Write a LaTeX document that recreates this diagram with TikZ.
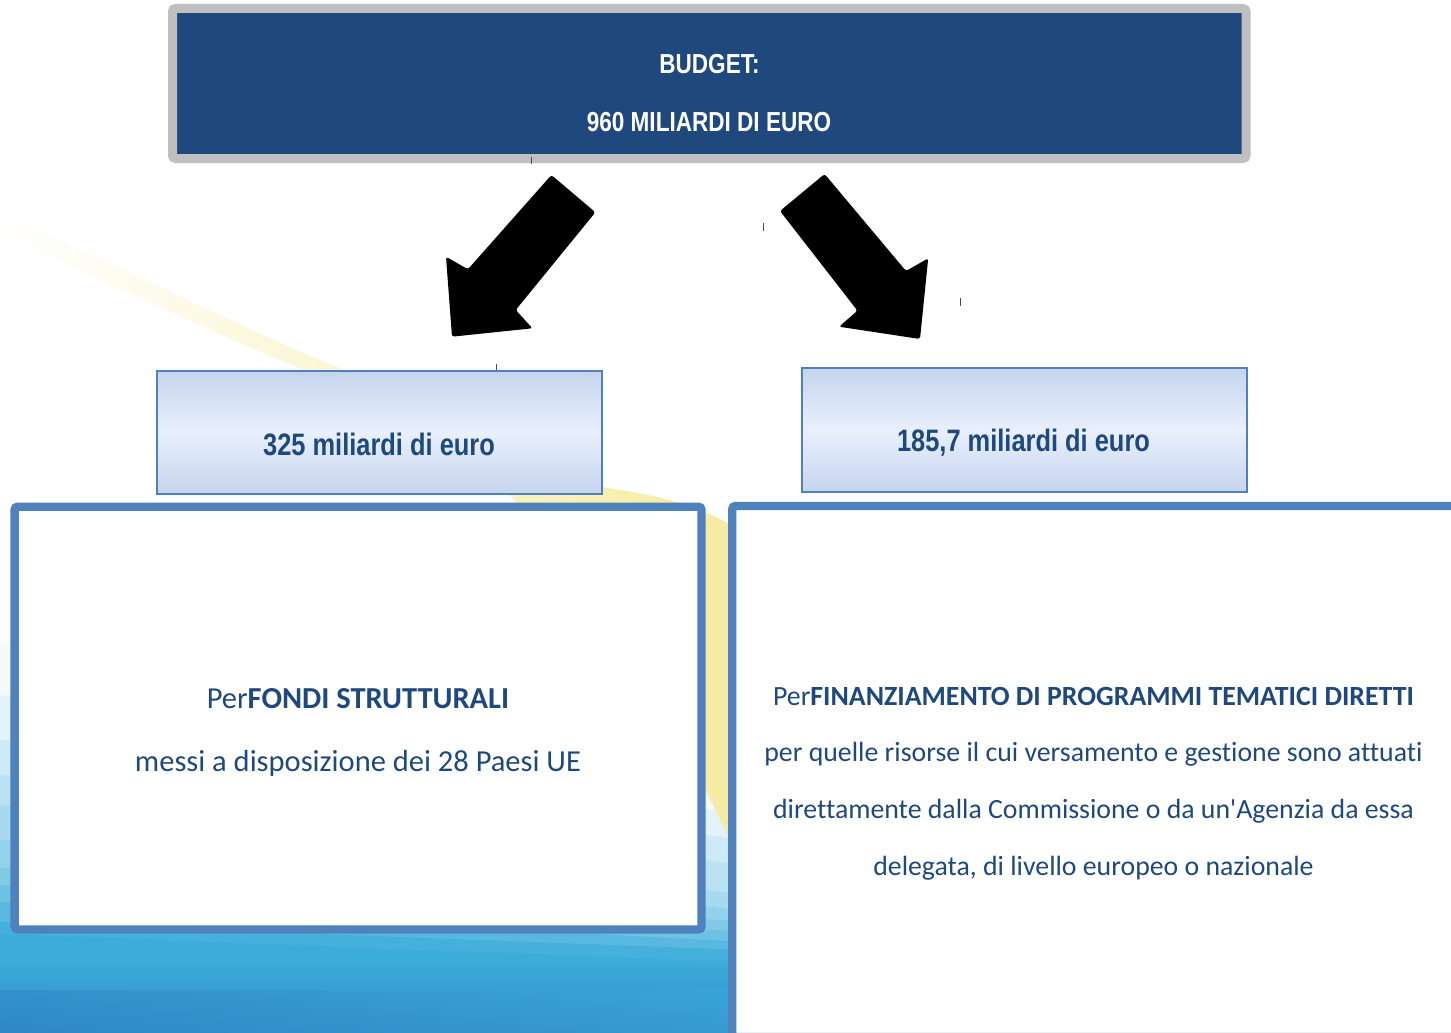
\documentclass[tikz,border=0pt]{standalone}
\usepackage{fontspec}
\setmainfont{Carlito}[Ligatures={TeX,NoCommon}]
\newfontfamily\narrowfont{Liberation Sans}
\definecolor{navy}{HTML}{1F497D}
\definecolor{accent}{HTML}{4F81BD}
\definecolor{graybd}{HTML}{BFBFBF}
\definecolor{gradend}{HTML}{C5D4EE}
\definecolor{gradmid}{HTML}{E9F0FB}
\definecolor{swoosh}{HTML}{F6EBA0}
\definecolor{bgblue}{HTML}{3CACDA}
\definecolor{bgdark}{HTML}{2F86C4}
\newcommand\narrowtxt[1]{\scalebox{0.82}[1]{#1}}
\begin{document}
\begin{tikzpicture}[x=1pt,y=-1pt,
  bigbox/.style={draw=accent, line width=8.3pt, fill=white, rounded corners=3pt, inner sep=0pt, anchor=north west},
  midbox/.style={draw=accent, line width=2pt, top color=gradend, bottom color=gradend, middle color=gradmid, inner sep=0pt, anchor=north west, minimum width=445pt},
  amounttxt/.style={anchor=base, inner sep=0pt, text=navy, font=\narrowfont\bfseries\fontsize{31}{31}\selectfont},
  titletxt/.style={anchor=base, inner sep=0pt, text=white, font=\narrowfont\bfseries\fontsize{27.5}{27.5}\selectfont},
  bodytxt/.style={anchor=base, inner sep=0pt, text=navy, font=\fontsize{30.5}{30.5}\selectfont},
  smallbodytxt/.style={bodytxt, font=\fontsize{27.8}{27.8}\selectfont},
  blockarrow/.style={fill=black, rounded corners=2.5pt},
  tickmark/.style={draw=black!70, line width=0.9pt}]
\clip (0,0) rectangle (1451,1033);
\fill[white] (0,0) rectangle (1451,1033);
% blue background
\foreach \cc/\yl/\yr in {5/640/790, 15/695/815, 25/740/840, 35/775/865, 45/805/895, 55/840/910, 65/868/922, 75/885/932, 85/902/942, 95/922/950, 100/934/962}
  \fill[bgblue!\cc!white] (0,\yl) -- (745,\yr) -- (745,1040) -- (0,1040) -- cycle;
\shade[top color=bgblue, bottom color=bgdark] (0,962) rectangle (745,1040);
\shade[left color=bgdark, right color=bgblue, opacity=0.5] (0,990) rectangle (745,1040);
% yellow swoosh
\shade[left color=white, middle color=swoosh!14!white, right color=swoosh]
  (0,214) .. controls (120,265) and (250,332) .. (330,364)
  .. controls (420,400) and (500,472) .. (620,490)
  .. controls (680,499) and (720,515) .. (745,535)
  -- (745,870) .. controls (700,780) and (600,560) .. (450,440)
  .. controls (400,410) and (370,392) .. (330,380)
  .. controls (250,350) and (120,290) .. (0,232) -- cycle;
% boxes
\node[draw=graybd, line width=9pt, fill=navy, rounded corners=3pt, minimum width=1073.5pt, minimum height=150pt, anchor=north west, inner sep=0pt, name=budget] at (168,4) {};
\node[midbox, minimum height=123pt, name=amtL] at (156,370) {};
\node[midbox, minimum height=124pt, name=amtR] at (801,367) {};
\node[bigbox, minimum width=686.9pt, minimum height=422.8pt, name=fondi] at (10.45,502.55) {};
\node[bigbox, minimum width=727.7pt, minimum height=531pt, name=diretti] at (728.15,501.85) {};
% block arrows
\fill[blockarrow] (551.4,175) -- (595.4,212.3) -- (515.7,310) -- (532.5,328.3) -- (452,336.7) -- (446,256.7) -- (467.9,269.3) -- cycle;
\fill[blockarrow] (824.6,174) -- (780,211) -- (857.5,310.7) -- (839,326.7) -- (920,339) -- (928.2,258.3) -- (906,271) -- cycle;
% tick marks
\draw[tickmark] (531,157) -- (531,164);
\draw[tickmark] (763,223) -- (763,231);
\draw[tickmark] (960,298) -- (960,306);
\draw[tickmark] (496,364) -- (496,370);
% texts
\node[titletxt, name=budgetA] at (709.5,74) {\narrowtxt{BUDGET:}};
\node[titletxt, name=budgetB] at (709,131.7) {\narrowtxt{960 MILIARDI DI EURO}};
\node[amounttxt, name=amtLtxt] at (379,455) {\narrowtxt{325 miliardi di euro}};
\node[amounttxt, name=amtRtxt] at (1023.5,451) {\narrowtxt{185,7 miliardi di euro}};
\node[bodytxt, name=fondiA] at (358,708) {Per\textbf{FONDI STRUTTURALI}};
\node[bodytxt, name=fondiB] at (358,771) {messi a disposizione dei 28 Paesi UE};
\node[smallbodytxt, name=dirA] at (1093.5,705) {Per\textbf{FINANZIAMENTO DI PROGRAMMI TEMATICI DIRETTI}};
\node[smallbodytxt, name=dirB] at (1093.5,761) {per quelle risorse il cui versamento e gestione sono attuati};
\node[smallbodytxt, name=dirC] at (1093.5,818) {direttamente dalla Commissione o da un\textquotesingle Agenzia da essa};
\node[smallbodytxt, name=dirD] at (1093.5,875) {delegata, di livello europeo o nazionale};
\end{tikzpicture}
\end{document}
